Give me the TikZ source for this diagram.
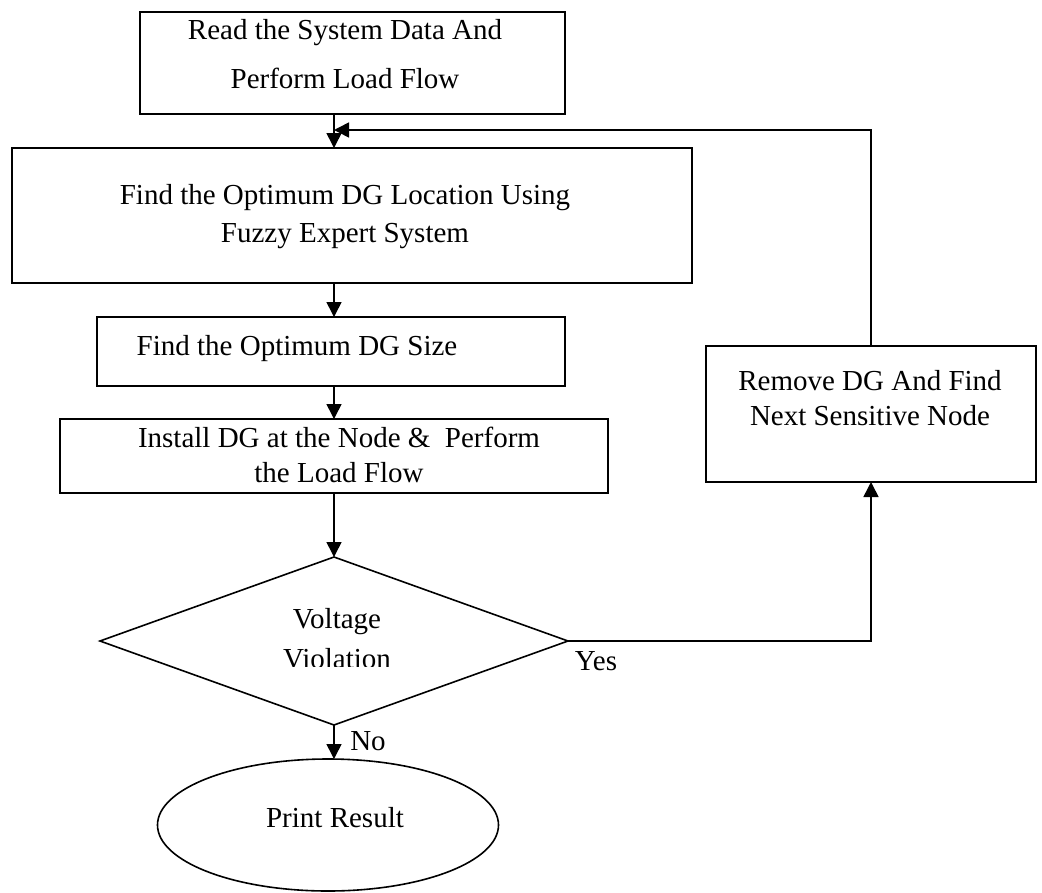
\documentclass[tikz,border=0pt]{standalone}
\usepackage{fontspec}
\setmainfont{Liberation Serif}
\usetikzlibrary{shapes.geometric,arrows.meta}
\begin{document}
\begin{tikzpicture}[x=1pt,y=-1pt,
  box/.style={draw,line width=1.6pt,inner sep=0pt,outer sep=0pt},
  txt/.style={align=center,inner sep=0pt},
  arr/.style={line width=1.6pt,-{Triangle[length=15pt,width=15pt]}},
  ln/.style={line width=1.6pt}]
\useasboundingbox (0,0) rectangle (1042,892);
\fontsize{29}{35}\selectfont
% boxes
\node[box,minimum width=425pt,minimum height=102pt] (b1) at (352.5,63) {};
\node[box,minimum width=680pt,minimum height=135pt] (b2) at (352,215.5) {};
\node[box,minimum width=468pt,minimum height=69pt] (b3) at (331,351.5) {};
\node[box,minimum width=548pt,minimum height=74pt] (b4) at (334,456) {};
\node[box,diamond,minimum width=468pt,minimum height=168pt] (dia) at (334,641) {};
\node[box,ellipse,minimum width=341pt,minimum height=132pt] (ell) at (328,825) {};
\node[box,minimum width=330pt,minimum height=136pt] (rb) at (871,414) {};
% texts
\node[txt,font=\fontsize{29}{49}\selectfont] (t1) at (345,54) {Read the System Data And\\Perform Load Flow};
\node[txt,font=\fontsize{29}{38}\selectfont] (t2) at (345,217) {Find the Optimum DG Location Using\\Fuzzy Expert System};
\node[txt] (t3) at (297,349) {Find the Optimum DG Size};
\node[txt,font=\fontsize{29}{35}\selectfont] (t4) at (339,455) {Install DG at the Node \&\ \ Perform\\the Load Flow};
\begin{scope}
\clip (200,560) rectangle (470,666);
\node[txt,font=\fontsize{29}{40}\selectfont] (t5) at (337,639) {Voltage\\Violation};
\end{scope}
\node[txt] (t6) at (335,818) {Print Result};
\node[txt,font=\fontsize{29}{35}\selectfont] (t7) at (870,398) {Remove DG And Find\\Next Sensitive Node};
\node[txt] (yes) at (596,661) {Yes};
\node[txt] (no) at (368,741) {No};
% connectors
\coordinate (ax) at (334,0);
\coordinate (fb) at (334,130);
\draw[arr] (ax |- b1.south) -- (ax |- b2.north);
\draw[arr] (ax |- b2.south) -- (ax |- b3.north);
\draw[arr] (ax |- b3.south) -- (ax |- b4.north);
\draw[arr] (ax |- b4.south) -- (dia.north);
\draw[arr] (dia.south) -- (dia.south |- ell.north);
\draw[arr] (dia.east) -| (rb.south);
\draw[arr] (rb.north) |- (fb);
\end{tikzpicture}
\end{document}
